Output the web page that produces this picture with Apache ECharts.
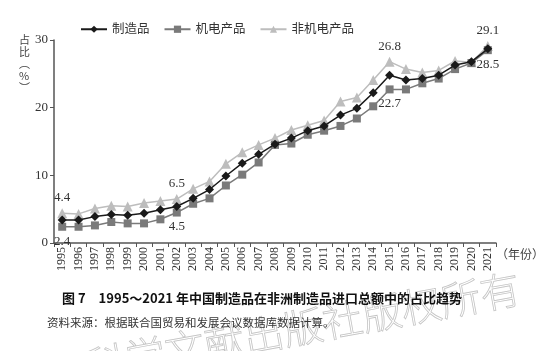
<!DOCTYPE html>
<html>
<head>
<meta charset="utf-8">
<script src="https://cdn.jsdelivr.net/npm/echarts@6/dist/echarts.min.js"></script>
<style>
  html, body { margin: 0; padding: 0; background: #fff; }
  #chart { width: 554px; height: 351px; }
</style>
</head>
<body>
<div id="chart"></div>
<script>
// 年份
const years = ['1995', '1996', '1997', '1998', '1999', '2000', '2001', '2002', '2003',
    '2004', '2005', '2006', '2007', '2008', '2009', '2010', '2011', '2012', '2013',
    '2014', '2015', '2016', '2017', '2018', '2019', '2020', '2021'];

// 制造品
const manufactured = [3.4, 3.4, 3.9, 4.2, 4.1, 4.4, 4.9, 5.4, 6.6, 7.9, 9.9, 11.8, 13.1, 14.6,
    15.5, 16.6, 17.3, 18.9, 19.9, 22.2, 24.8, 24.1, 24.3, 24.8, 26.3, 26.8, 28.7];
// 机电产品
const machinery = [2.4, 2.4, 2.6, 3.1, 2.9, 2.9, 3.5, 4.5, 5.8, 6.6, 8.5, 10.1, 11.9, 14.5,
    14.7, 16.0, 16.6, 17.3, 18.4, 20.2, 22.7, 22.7, 23.6, 24.3, 25.7, 26.6, 28.5];
// 非机电产品
const nonMachinery = [4.4, 4.3, 5.1, 5.5, 5.4, 5.9, 6.2, 6.5, 8.0, 9.1, 11.7, 13.4, 14.5, 15.5,
    16.7, 17.4, 18.1, 20.9, 21.5, 24.1, 26.8, 25.7, 25.2, 25.5, 26.9, 26.7, 29.1];

const yTicks = [0, 10, 20, 30];

// 标注的数据点：索引 -> 标签位置
const machineryLabels = { 0: 'bottom', 7: 'bottom', 20: 'bottom', 26: 'bottom' };
const nonMachineryLabels = { 0: 'top', 7: 'top', 20: 'top', 26: 'top' };

const serif = '"Liberation Serif", "Noto Sans CJK SC", serif';

function withLabels(values, labels) {
    return values.map((v, i) => {
        if (!(i in labels)) return v;
        return {
            value: v,
            label: {
                show: true,
                position: labels[i],
                distance: 4,
                color: '#333',
                fontSize: 13,
                fontFamily: serif
            }
        };
    });
}

const chart = echarts.init(document.getElementById('chart'));

const option = {
    animation: false,
    legend: {
        top: 18,
        left: 75,
        itemWidth: 26,
        itemHeight: 9,
        itemGap: 14,
        textStyle: { fontFamily: serif, fontSize: 12.5, color: '#333' },
        data: ['制造品', '机电产品', '非机电产品']
    },
    grid: {
        left: 54,
        right: 58,
        top: 40,
        bottom: 108
    },
    xAxis: {
        type: 'category',
        data: years,
        boundaryGap: true,
        axisLine: { lineStyle: { color: '#555', width: 1.5 } },
        axisTick: { show: true, length: 4, lineStyle: { color: '#555' } },
        axisLabel: {
            interval: 0,
            rotate: 90,
            color: '#333',
            fontSize: 12,
            fontFamily: serif,
            margin: 4
        }
    },
    yAxis: {
        type: 'value',
        min: yTicks[0],
        max: yTicks[yTicks.length - 1],
        interval: 10,
        axisLine: { show: true, lineStyle: { color: '#555', width: 1.5 } },
        axisTick: { show: true, length: 4, lineStyle: { color: '#555' } },
        axisLabel: { color: '#333', fontSize: 13, fontFamily: serif, margin: 6 },
        splitLine: { show: false }
    },
    graphic: [
        {
            // 水印
            type: 'text',
            x: 516,
            y: 268,
            rotation: 0.18,
            z: -10,
            style: {
                text: '社会科学文献出版社版权所有',
                font: '300 40px "Noto Sans CJK SC"',
                fill: 'none',
                stroke: '#c4c4c4',
                lineWidth: 0.8,
                align: 'right',
                verticalAlign: 'top'
            }
        },
        {
            type: 'text',
            left: 19,
            top: 34,
            style: {
                text: '占\n比\n︵\n%\n︶',
                font: '11px "Noto Sans CJK SC"',
                fill: '#444',
                lineHeight: 12,
                align: 'center'
            }
        },
        {
            type: 'text',
            left: 496,
            top: 248,
            style: { text: '（年份）', font: '12px "Noto Sans CJK SC"', fill: '#444' }
        },
        {
            type: 'text',
            left: 62,
            top: 292,
            style: {
                text: '图 7　1995～2021 年中国制造品在非洲制造品进口总额中的占比趋势',
                font: 'bold 13px "Noto Sans CJK SC"',
                fill: '#111'
            }
        },
        {
            type: 'text',
            left: 47,
            top: 317,
            style: {
                text: '资料来源：根据联合国贸易和发展会议数据库数据计算。',
                font: '11.5px "Noto Sans CJK SC"',
                fill: '#333'
            }
        }
    ],
    series: [
        {
            name: '非机电产品',
            type: 'line',
            data: withLabels(nonMachinery, nonMachineryLabels),
            symbol: 'triangle',
            symbolSize: 10,
            itemStyle: { color: '#bdbdbd' },
            lineStyle: { color: '#bdbdbd', width: 1.5 },
            z: 1
        },
        {
            name: '机电产品',
            type: 'line',
            data: withLabels(machinery, machineryLabels),
            symbol: 'rect',
            symbolSize: 8,
            itemStyle: { color: '#7a7a7a' },
            lineStyle: { color: '#7a7a7a', width: 1.5 },
            z: 2
        },
        {
            name: '制造品',
            type: 'line',
            data: manufactured,
            symbol: 'diamond',
            symbolSize: 9,
            itemStyle: { color: '#1a1a1a' },
            lineStyle: { color: '#1a1a1a', width: 1.5 },
            z: 3
        }
    ]
};

chart.setOption(option);
</script>
</body>
</html>
